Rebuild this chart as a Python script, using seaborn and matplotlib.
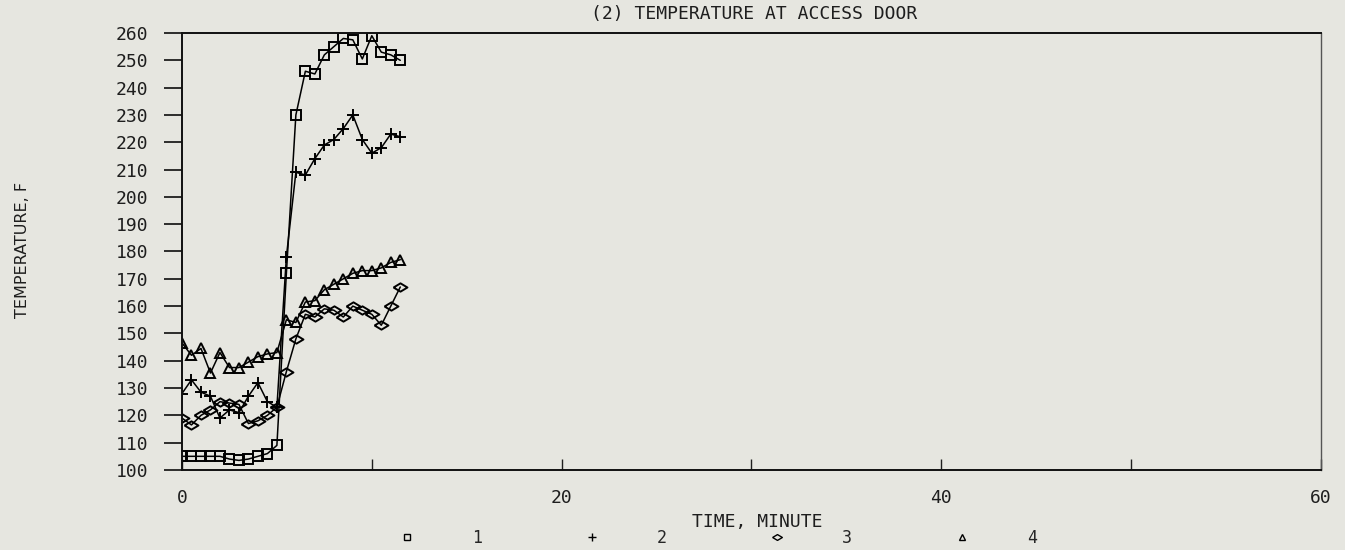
import matplotlib
matplotlib.use("Agg")
import matplotlib.pyplot as plt
from matplotlib.lines import Line2D
import numpy as np
import pandas as pd
import seaborn as sns

# Sampling times, minutes
time_min = [0.0, 0.5, 1.0, 1.5, 2.0, 2.5, 3.0, 3.5, 4.0, 4.5, 5.0, 5.5,
            6.0, 6.5, 7.0, 7.5, 8.0, 8.5, 9.0, 9.5, 10.0, 10.5, 11.0, 11.5]

# Thermocouple readings at the access door, deg F
tc1 = [105, 105, 105, 105, 105, 104, 103.5, 104, 105, 106, 109, 172,
       230, 246, 245, 252, 255, 258, 257.5, 250.5, 259, 253, 252, 250]
tc2 = [128, 133, 128.5, 127, 119, 122, 121, 127, 132, 125, 123, 178,
       209, 208, 214, 219, 221, 225, 230, 221, 216, 218, 223, 222]
tc3 = [119, 116.5, 120, 122, 125, 124.5, 124, 117, 118, 120, 123, 136,
       148, 157, 156, 159, 158.5, 156, 160, 158.5, 157, 153, 160, 167]
tc4 = [146.5, 142, 144.5, 135.5, 143, 137.5, 137.5, 139.5, 141.5, 142.5, 143, 155,
       154, 161.5, 162, 166, 168, 170, 172, 173, 173, 174, 176, 177]

series_names = ["1", "2", "3", "4"]
# flattened diamond, wider than tall, like the plotter symbol
flat_diamond = [(-1.0, 0.0), (0.0, 0.6), (1.0, 0.0), (0.0, -0.6), (-1.0, 0.0)]
markers = {"1": "s", "2": "+", "3": flat_diamond, "4": "^"}
msizes = {"1": 6.5, "2": 9, "3": 10, "4": 7}
legend_sizes = {"1": 5, "2": 6, "3": 7, "4": 5}

df = pd.concat([
    pd.DataFrame({"time": time_min, "temp": vals, "tc": name})
    for name, vals in zip(series_names, [tc1, tc2, tc3, tc4])
], ignore_index=True)

sns.set_theme(style="ticks")
plt.rcParams["font.family"] = ["DejaVu Sans Mono", "DejaVu Sans"]
bg = "#e6e6e0"
ink = "#1e1e1e"

fig = plt.figure(figsize=(13.45, 5.5), dpi=100, facecolor=bg)
ax = fig.add_axes([0.1353, 0.1455, 0.8468, 0.7945], facecolor=bg)

for name in series_names:
    sub = df[df["tc"] == name]
    sns.lineplot(data=sub, x="time", y="temp", color="black", linewidth=1.1,
                 marker=markers[name], markersize=msizes[name],
                 markerfacecolor="none", markeredgecolor="black",
                 markeredgewidth=1.4, legend=False, ax=ax, sort=False,
                 estimator=None)

ax.set_xlim(0, 60)
ax.set_ylim(100, 260)
ax.set_xticks([0, 10, 20, 30, 40, 50, 60])
ax.set_xticklabels(["0", "", "20", "", "40", "", "60"])
ax.set_yticks(np.arange(100, 261, 10))
ax.tick_params(axis="y", direction="out", length=13, width=1.3,
               labelsize=13, pad=11, colors=ink)
ax.tick_params(axis="x", direction="in", length=8, width=1.0,
               labelsize=13, pad=14, colors=ink)
for side in ["left", "bottom", "top"]:
    ax.spines[side].set_color("#111111")
    ax.spines[side].set_linewidth(1.4)
ax.spines["right"].set_color("#555555")
ax.spines["right"].set_linewidth(1.0)
ax.set_xlabel("")
ax.set_ylabel("")

fig.text(0.561, 0.975, "(2) TEMPERATURE AT ACCESS DOOR", ha="center",
         va="center", fontsize=13, color=ink)
fig.text(0.563, 0.051, "TIME, MINUTE", ha="center", va="center",
         fontsize=13, color=ink)
fig.text(0.017, 0.545, "TEMPERATURE, F", rotation=90, ha="center",
         va="center", fontsize=11.5, color=ink, family=["DejaVu Sans"])

handles = [Line2D([], [], linestyle="none", marker=markers[n],
                  markersize=legend_sizes[n],
                  markerfacecolor="none", markeredgecolor="black",
                  markeredgewidth=1.0) for n in series_names]
fig.legend(handles, series_names, loc="center", ncol=4, frameon=False,
           bbox_to_anchor=(0.534, 0.022), fontsize=12, handlelength=0.9,
           handletextpad=3.45, columnspacing=6.15, borderpad=0.2)

fig.savefig("out.png", dpi=100, facecolor=bg)
